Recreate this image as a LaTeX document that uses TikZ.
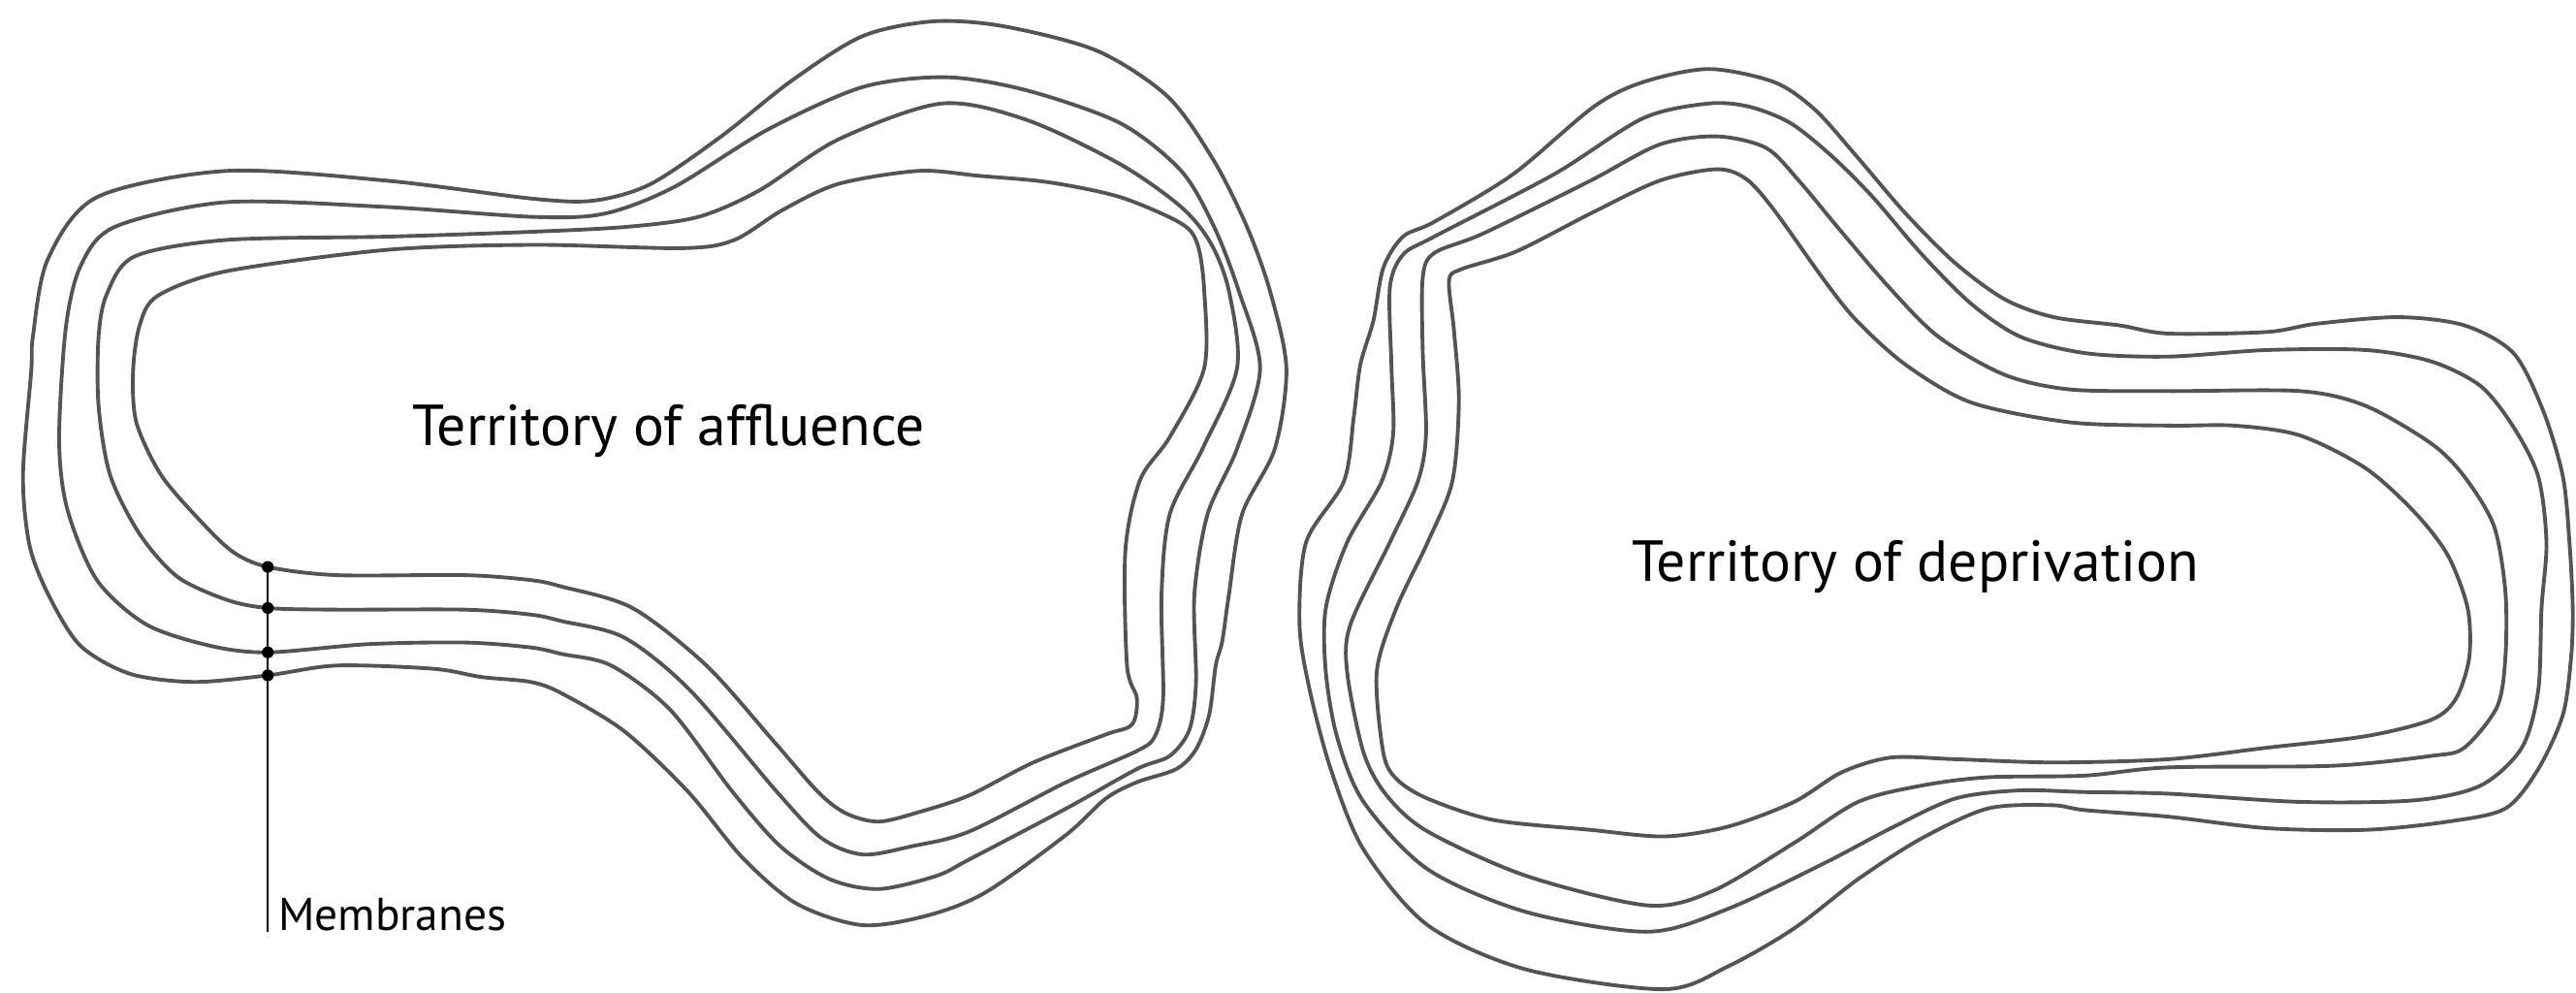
\documentclass[tikz,border=0pt]{standalone}
\usepackage{fontspec}
\setmainfont{PT Sans}
\usepackage{tikz}
\usetikzlibrary{positioning}

\begin{document}
\begin{tikzpicture}[x=0.016945cm,y=-0.016945cm,
    membrane/.style={draw=black!67,line width=1.1pt,line join=round},
    territory/.style={font=\fontsize{17}{20}\selectfont,inner sep=0pt},
    pointer/.style={draw=black,line width=0.45pt}]
  \useasboundingbox (0,0) rectangle (1568,604);

  % territory of affluence, outer to inner
  \draw[membrane] plot[smooth cycle,tension=0.5] coordinates {
    (59,120) (138,104) (236,110) (325,121) (362,122) (396,112) (439,83) (482,49)
    (525,22) (568,13) (611,16) (668,31) (711,59) (739,98) (759,138) (773,177)
    (783,224) (776,273) (756,313) (748,362) (744,390) (740,405) (736,435) (728,456)
    (716,468) (692,476) (673,486) (649,508) (600,543) (565,557) (525,563) (485,550)
    (452,522) (419,482) (380,445) (342,422) (323,415) (293,412) (264,407) (205,405)
    (163,411) (118,415) (79,410) (49,393) (30,363) (18,332) (14,289) (19,226)
    (20,205) (29,158)};
  \draw[membrane] plot[smooth cycle,tension=0.5] coordinates {
    (70,138) (138,123) (236,126) (325,132) (368,130) (410,114) (467,79) (525,53)
    (576,47) (625,55) (682,75) (719,104) (739,138) (754,177) (767,224) (753,273)
    (735,313) (727,362) (728,415) (724,444) (712,460) (692,468) (649,492) (590,523)
    (570,533) (535,541) (505,535) (475,515) (446,482) (408,432) (372,405) (342,398)
    (323,394) (283,391) (224,392) (163,397) (128,393) (89,380) (59,353) (41,310)
    (36,268) (40,200) (49,162)};
  \draw[membrane] plot[smooth cycle,tension=0.5] coordinates {
    (82,156) (138,146) (236,144) (325,141) (382,138) (425,132) (462,116) (510,85)
    (573,63) (625,73) (682,100) (719,126) (737,148) (748,177) (753,224) (732,273)
    (712,313) (707,362) (708,425) (703,448) (692,457) (649,476) (590,506) (555,515)
    (525,520) (500,510) (473,482) (420,420) (380,388) (342,378) (323,374) (283,371)
    (205,371) (163,370) (138,365) (108,351) (85,325) (67,289) (60,247) (60,205)
    (65,179)};
  \draw[membrane] plot[smooth cycle,tension=0.5] coordinates {
    (96,180) (138,165) (236,152) (325,149) (416,151) (447,146) (476,128) (510,112)
    (559,104) (596,107) (639,111) (682,120) (719,136) (729,149) (733,177) (733,224)
    (712,266) (694,292) (685,335) (686,405) (692,425) (689,441) (673,447) (629,464)
    (590,484) (560,494) (535,500) (515,495) (498,482) (470,450) (430,405) (385,370)
    (342,357) (323,353) (283,350) (205,350) (163,345) (142,336) (122,317) (98,289)
    (83,257) (81,226) (85,198)};

  % territory of deprivation, outer to inner
  \draw[membrane] plot[smooth cycle,tension=0.5] coordinates {
    (1040,42) (1080,50) (1105,67) (1130,95) (1160,130) (1190,160) (1220,182)
    (1250,193) (1290,198) (1320,203) (1380,202) (1410,197) (1460,193) (1500,198)
    (1530,215) (1548,250) (1560,290) (1564,330) (1566,370) (1565,400) (1560,435)
    (1545,468) (1525,492) (1490,500) (1440,505) (1380,504) (1320,497) (1269,493)
    (1249,490) (1210,492) (1170,510) (1131,535) (1092,565) (1052,588) (1013,602)
    (929,590) (869,563) (830,517) (810,468) (797,419) (791,380) (795,330) (818,293)
    (824,254) (828,222) (836,195) (842,163) (854,144) (873,135) (921,106) (970,65)
    (1000,50)};
  \draw[membrane] plot[smooth cycle,tension=0.5] coordinates {
    (1040,63) (1065,65) (1090,75) (1115,95) (1140,120) (1170,155) (1200,185)
    (1230,205) (1270,215) (1320,217) (1380,213) (1440,213) (1480,220) (1510,235)
    (1530,260) (1545,290) (1550,330) (1547,370) (1545,420) (1535,455) (1510,478)
    (1470,487) (1400,488) (1320,483) (1269,482) (1229,481) (1190,486) (1151,504)
    (1111,525) (1052,553) (1003,567) (929,555) (869,529) (830,488) (814,449)
    (807,409) (807,370) (820,330) (841,293) (848,264) (847,224) (846,175)
    (854,155) (873,144) (946,106) (1000,72)};
  \draw[membrane] plot[smooth cycle,tension=0.5] coordinates {
    (1045,83) (1075,90) (1095,110) (1120,140) (1150,175) (1180,205) (1220,228)
    (1260,237) (1320,238) (1400,238) (1440,247) (1480,270) (1500,290) (1518,320)
    (1525,360) (1525,400) (1520,430) (1500,455) (1480,460) (1420,466) (1320,467)
    (1269,472) (1210,473) (1170,478) (1131,488) (1092,513) (1043,542) (1003,551)
    (929,533) (869,506) (844,484) (830,458) (820,409) (822,380) (846,330)
    (863,293) (868,264) (866,214) (866,169) (873,154) (903,142) (968,110)
    (1010,88)};
  \draw[membrane] plot[smooth cycle,tension=0.5] coordinates {
    (1045,103) (1063,109) (1080,128) (1110,170) (1130,195) (1160,222)
    (1200,245) (1260,257) (1320,259) (1360,259) (1400,265) (1440,285) (1470,312)
    (1490,338) (1502,370) (1503,400) (1495,425) (1480,438) (1440,448) (1380,455)
    (1320,462) (1250,464) (1190,462) (1151,461) (1121,470) (1092,488) (1052,503)
    (1013,509) (968,505) (909,499) (869,486) (850,474) (842,458) (838,409)
    (850,370) (869,330) (884,293) (888,244) (885,201) (882,171) (889,164)
    (923,153) (968,130) (1010,110)};

  \node[territory] (affluence) at (407,262) {Territory of affluence};
  \node[territory] (deprivation) at (1166,345) {Territory of deprivation};

  % membranes pointer
  \coordinate (mend) at (163,567);
  \node[anchor=base west,inner sep=0pt,font=\fontsize{13.5}{16}\selectfont]
    (membranes) at (169,566) {Membranes};
  \draw[pointer] (163,345) coordinate (m1) -- (mend);
  \foreach \n/\y in {1/345, 2/370, 3/397, 4/411}
    \fill (163,\y) coordinate (m\n) circle (3.6);
\end{tikzpicture}
\end{document}
